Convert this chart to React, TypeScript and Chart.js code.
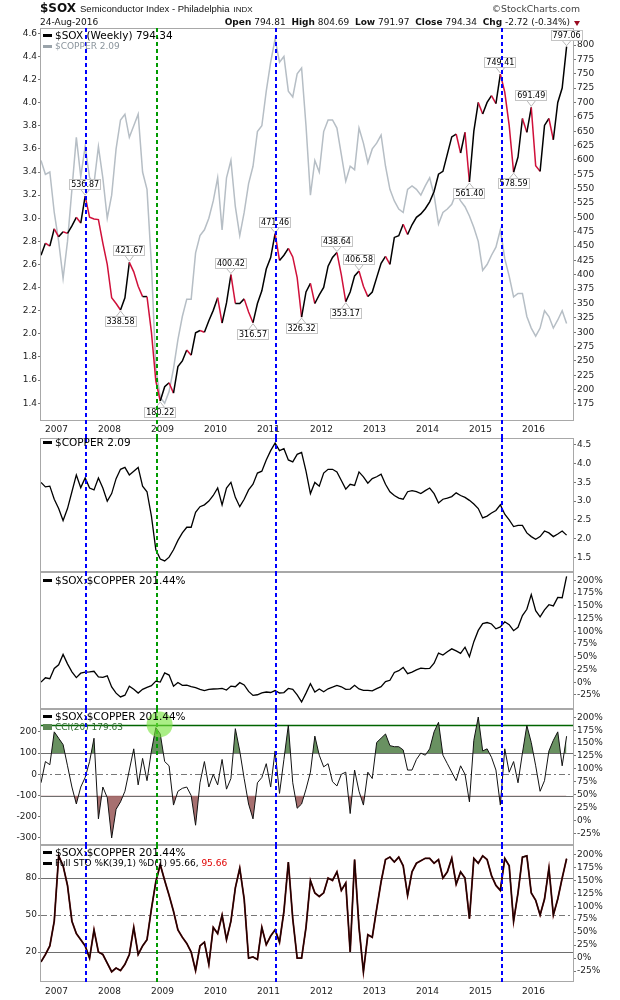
import React, { useEffect, useRef } from "react";
import { Chart, registerables } from "chart.js";
Chart.register(...registerables);

// Weekly chart sampled monthly: index 0 = Sep 2006 ... 119 = Aug 2016
const sox = [
  434, 455, 450, 480, 466, 475, 472, 485, 500, 490,
  536.87, 500, 497, 496, 455, 418, 360, 350, 338.58, 360,
  421.67, 405, 380, 362, 362, 300, 215, 180.22, 205, 212,
  194, 240, 250, 269, 260, 299, 303, 300, 320, 338,
  360, 316, 351, 400.42, 350, 350, 358, 335, 316.57, 350,
  372, 410, 430, 471.46, 425, 434, 446, 431, 395, 326.32,
  370, 385, 350, 365, 378, 415, 430, 438.64, 400, 353.17,
  370, 398, 406.58, 380, 362, 370, 395, 420, 432, 418,
  465, 468, 488, 470, 487, 500, 506, 515, 527, 545,
  575, 580, 610, 640, 645, 612, 648, 561.40, 650, 700,
  680, 700, 712, 698, 749.41, 718, 660, 578.59, 605, 672,
  648, 691.49, 590, 580, 660, 672, 635, 700, 725, 797.06,
];

const copper = [
  3.50, 3.38, 3.40, 3.05, 2.80, 2.48, 2.80, 3.25, 3.70, 3.36,
  3.62, 3.35, 3.30, 3.62, 3.35, 3.00, 3.20, 3.60, 3.85, 3.90,
  3.70, 3.80, 3.90, 3.40, 3.25, 2.60, 1.70, 1.45, 1.40, 1.50,
  1.70, 1.95, 2.15, 2.30, 2.30, 2.70, 2.85, 2.90, 3.00, 3.15,
  3.35, 2.90, 3.35, 3.50, 3.10, 2.85, 3.05, 3.30, 3.45, 3.75,
  3.80, 4.10, 4.35, 4.55, 4.35, 4.40, 4.10, 4.05, 4.25, 4.30,
  3.80, 3.20, 3.50, 3.40, 3.75, 3.85, 3.85, 3.78, 3.55, 3.32,
  3.45, 3.42, 3.78, 3.65, 3.48, 3.60, 3.65, 3.72, 3.45, 3.25,
  3.15, 3.08, 3.05, 3.25, 3.28, 3.25, 3.20, 3.28, 3.35, 3.20,
  2.95, 3.05, 3.08, 3.12, 3.22, 3.15, 3.10, 3.02, 2.92, 2.80,
  2.55, 2.60, 2.68, 2.75, 2.90, 2.65, 2.50, 2.32, 2.35, 2.35,
  2.15, 2.05, 1.98, 2.05, 2.20, 2.15, 2.05, 2.12, 2.20, 2.09,
];

const cci = [
  -40, 60, 45, 200, 170, 140, 40, -60, -140, -60,
  -15, 60, 170, -210, -60, -110, -300, -165, -130, -80,
  20, 120, -50, 75, -30, 110, 220, 190, 60, 40,
  -145, -80, -66, -60, -100, -240, -40, 60, -60, 0,
  -50, 70, -70, -20, 215, 110, -20, -140, -210, -40,
  -15, 50, -60, 110, -90, 70, 232, -40, -160, -140,
  -70, 10, 180, 90, 35, 50, -35, -55, 0, 10,
  -185, 20, -80, -145, 10, -20, 150, 170, 190, 135,
  130, 130, 115, 20, 20, 70, 100, 90, 120, 200,
  245, 90, 50, 10, -30, 40, 0, -130, 160, 270,
  110, 120, 80, 20, -145, 120, 10, 60, -40, 100,
  230, 150, 40, -80, -30, 110, 160, 200, 40, 179.63,
];

const sto = [
  12, 18, 25, 45, 98, 90, 74, 45, 35, 30,
  25, 15, 38, 20, 18, 11, 4, 7, 5, 10,
  18, 40, 18, 25, 30, 55, 77, 91, 78, 66,
  53, 38, 32, 27, 20, 5, 25, 28, 10, 40,
  35, 50, 30, 45, 72, 88, 63, 15, 16, 14,
  40, 26, 33, 38, 28, 53, 93, 47, 15, 15,
  40, 78, 68, 65, 68, 80, 78, 85, 70, 76,
  20, 95, 40, 4, 34, 32, 55, 77, 95, 97,
  93, 97, 90, 66, 85, 92, 94, 96, 96, 92,
  95, 80, 85, 96, 75, 85, 80, 47, 96, 92,
  98, 95, 82, 74, 70, 96, 90, 45, 68, 97,
  98, 68, 62, 50, 63, 88, 50, 63, 80, 95.66,
];

const peakIdx = [10, 18, 20, 27, 43, 48, 53, 59, 67, 69, 72, 97, 104, 107, 111, 119];
const peakSide = ["up", "down", "up", "down", "up", "down", "up", "down", "up", "down", "up", "down", "up", "down", "up", "up"];

const years = ["2007", "2008", "2009", "2010", "2011", "2012", "2013", "2014", "2015", "2016"];
const yearPos = [3.5, 15.5, 27.5, 39.5, 51.5, 63.5, 75.5, 87.5, 99.5, 111.5];

const blueMarks = [10.2, 53.2, 104.4];
const greenMarks = [26.3];
const highlight = { x: 26.85, y: 235 };

const copperTicks = [1.4, 1.6, 1.8, 2.0, 2.2, 2.4, 2.6, 2.8, 3.0, 3.2, 3.4, 3.6, 3.8, 4.0, 4.2, 4.4, 4.6];
const soxTicks = [175, 200, 225, 250, 275, 300, 325, 350, 375, 400, 425, 450, 475, 500, 525, 550, 575, 600, 625, 650, 675, 700, 725, 750, 775, 800];
const copper2Ticks = [1.5, 2.0, 2.5, 3.0, 3.5, 4.0, 4.5];
const pctTicks = [-25, 0, 25, 50, 75, 100, 125, 150, 175, 200];
const cciTicks = [-300, -200, -100, 0, 100, 200];
const stoTicks = [20, 50, 80];

const X_MAX = 120.45;
const RED = "#d0103a";
const FONT = { family: '"DejaVu Sans", sans-serif', size: 9 };

const pts = (arr: number[]) => arr.map((v, i) => ({ x: i, y: v }));

function zeroPad(s: any) {
  s.paddingTop = 0;
  s.paddingBottom = 0;
  s.paddingLeft = 0;
  s.paddingRight = 0;
}

function yAxis(pos: string, min: number, max: number, ticks: number[], fmt: (v: number) => string) {
  return {
    type: "linear",
    position: pos,
    min,
    max,
    afterBuildTicks: (s: any) => {
      s.ticks = ticks.map((v) => ({ value: v }));
    },
    afterFit: (s: any) => {
      s.width = pos === "left" ? 41 : 47;
      zeroPad(s);
    },
    grid: { display: true, drawOnChartArea: false, drawTicks: true, tickLength: 3, color: "#777" },
    border: { display: false },
    ticks: { display: true, font: FONT, color: "#222", padding: 1, autoSkip: false, callback: (v: any) => fmt(Number(v)) },
  };
}

function xAxis(show: boolean, h: number, pad: number) {
  return {
    type: "linear",
    min: 0,
    max: X_MAX,
    display: show,
    afterBuildTicks: (s: any) => {
      s.ticks = yearPos.map((v) => ({ value: v }));
    },
    afterFit: (s: any) => {
      s.height = h;
      zeroPad(s);
    },
    grid: { display: false, drawTicks: false },
    border: { display: false },
    ticks: {
      font: FONT,
      color: "#222",
      padding: pad,
      maxRotation: 0,
      autoSkip: false,
      callback: (v: any) => years[yearPos.indexOf(Number(v))] ?? "",
    },
  };
}

const framePlugin = (hlines: { v: number; axis: string; color: string; width: number; dash: number[] }[] = []) => ({
  id: "frame",
  beforeDatasetsDraw(chart: any) {
    const { ctx, chartArea: a } = chart;
    ctx.save();
    hlines.forEach((h) => {
      const y = Math.round(chart.scales[h.axis].getPixelForValue(h.v)) + 0.5;
      ctx.strokeStyle = h.color;
      ctx.lineWidth = h.width;
      ctx.setLineDash(h.dash);
      ctx.beginPath();
      ctx.moveTo(a.left, y);
      ctx.lineTo(a.right, y);
      ctx.stroke();
    });
    ctx.setLineDash([]);
    ctx.strokeStyle = "#a8a8a8";
    ctx.lineWidth = 1;
    ctx.strokeRect(a.left - 0.5, a.top + 0.5, a.right - a.left + 1, a.bottom - a.top - 1);
    ctx.restore();
  },
});

const marksPlugin = (range: (chart: any) => [number, number], circle = false) => ({
  id: "marks",
  afterDatasetsDraw(chart: any) {
    const { ctx } = chart;
    const xs = chart.scales.x;
    const [t, b] = range(chart);
    ctx.save();
    ctx.lineWidth = 2;
    ctx.strokeStyle = "#0000ff";
    ctx.setLineDash([4, 3]);
    blueMarks.forEach((m) => {
      const x = Math.round(xs.getPixelForValue(m));
      ctx.beginPath();
      ctx.moveTo(x, t);
      ctx.lineTo(x, b);
      ctx.stroke();
    });
    ctx.lineWidth = 2;
    ctx.strokeStyle = "#009a00";
    ctx.setLineDash([4, 3]);
    greenMarks.forEach((m) => {
      const x = Math.round(xs.getPixelForValue(m));
      ctx.beginPath();
      ctx.moveTo(x, t);
      ctx.lineTo(x, b);
      ctx.stroke();
    });
    if (circle) {
      ctx.setLineDash([]);
      const cx = xs.getPixelForValue(highlight.x);
      const cy = chart.scales.yL.getPixelForValue(highlight.y);
      ctx.fillStyle = "rgba(118,228,60,0.62)";
      ctx.beginPath();
      ctx.arc(cx, cy, 13, 0, Math.PI * 2);
      ctx.fill();
    }
    ctx.restore();
  },
});

const soxLabelPlugin = {
  id: "soxLabels",
  afterDatasetsDraw(chart: any) {
    const { ctx } = chart;
    const xs = chart.scales.x;
    const ys = chart.scales.yR;
    ctx.save();
    ctx.font = '8px "DejaVu Sans", sans-serif';
    peakIdx.forEach((i, k) => {
      const v = sox[i];
      const txt = v.toFixed(2);
      const px = xs.getPixelForValue(i);
      const py = ys.getPixelForValue(v);
      const w = Math.round(ctx.measureText(txt).width) + 4;
      const h = 11;
      const up = peakSide[k] === "up";
      const by = Math.round(up ? py - 6 - h : py + 6);
      const bx = Math.round(px - w / 2);
      const edge = up ? by + h : by;
      ctx.strokeStyle = "#b8b8b8";
      ctx.lineWidth = 1;
      ctx.beginPath();
      ctx.moveTo(px - 4, edge);
      ctx.lineTo(px, up ? py - 1 : py + 1);
      ctx.lineTo(px + 4, edge);
      ctx.stroke();
      ctx.fillStyle = "#fff";
      ctx.fillRect(bx, by, w, h);
      ctx.strokeStyle = "#c4c4c4";
      ctx.strokeRect(bx + 0.5, by + 0.5, w - 1, h - 1);
      ctx.fillStyle = "#000";
      ctx.textAlign = "center";
      ctx.textBaseline = "middle";
      ctx.fillText(txt, px, by + h / 2 + 0.5);
    });
    ctx.restore();
  },
};

const baseOptions = (padding: any) => ({
  animation: false,
  responsive: false,
  maintainAspectRatio: false,
  devicePixelRatio: 1,
  events: [],
  layout: { padding },
  plugins: { legend: { display: false }, tooltip: { enabled: false } },
  elements: { point: { radius: 0 }, line: { tension: 0 } },
});

const pct = (v: number) => `${v}%`;

export default function App() {
  const r1 = useRef<HTMLCanvasElement>(null);
  const r2 = useRef<HTMLCanvasElement>(null);
  const r3 = useRef<HTMLCanvasElement>(null);
  const r4 = useRef<HTMLCanvasElement>(null);
  const r5 = useRef<HTMLCanvasElement>(null);

  useEffect(() => {
    Chart.defaults.font.family = '"DejaVu Sans", sans-serif';
    const base = sox[0] / copper[0];
    const ratio = sox.map((v, i) => (v / copper[i] / base) * 100 - 100);
    const charts: Chart[] = [];

    charts.push(
      new Chart(r1.current as HTMLCanvasElement, {
        type: "line",
        data: {
          datasets: [
            {
              data: pts(sox),
              yAxisID: "yR",
              borderColor: "#000",
              borderWidth: 1.5,
              pointRadius: 0,
              order: 0,
              segment: { borderColor: (c: any) => (c.p1.parsed.y < c.p0.parsed.y ? RED : "#000") },
            },
            { data: pts(copper), yAxisID: "yL", borderColor: "#b6bec5", borderWidth: 1.5, pointRadius: 0, order: 1 },
          ],
        },
        options: {
          ...baseOptions({ top: 28, left: 0, right: 0, bottom: 0 }),
          scales: {
            x: xAxis(true, 17, 3),
            yL: yAxis("left", 1.246, 4.646, copperTicks, (v) => v.toFixed(1)),
            yR: yAxis("right", 145.4, 829.6, soxTicks, (v) => String(v)),
          },
        } as any,
        plugins: [framePlugin(), soxLabelPlugin, marksPlugin((c) => [c.chartArea.top, c.height])],
      })
    );

    charts.push(
      new Chart(r2.current as HTMLCanvasElement, {
        type: "line",
        data: { datasets: [{ data: pts(copper), yAxisID: "y", borderColor: "#000", borderWidth: 1.3, pointRadius: 0 }] },
        options: {
          ...baseOptions({ top: 0, left: 41, right: 0, bottom: 0 }),
          scales: {
            x: xAxis(false, 0, 0),
            y: yAxis("right", 1.104, 4.687, copper2Ticks, (v) => v.toFixed(1)),
          },
        } as any,
        plugins: [framePlugin(), marksPlugin((c) => [0, c.height])],
      })
    );

    charts.push(
      new Chart(r3.current as HTMLCanvasElement, {
        type: "line",
        data: { datasets: [{ data: pts(ratio), yAxisID: "y", borderColor: "#000", borderWidth: 1.3, pointRadius: 0 }] },
        options: {
          ...baseOptions({ top: 0, left: 41, right: 0, bottom: 0 }),
          scales: {
            x: xAxis(false, 0, 0),
            y: yAxis("right", -52.7, 216.3, pctTicks, pct),
          },
        } as any,
        plugins: [framePlugin(), marksPlugin((c) => [0, c.height])],
      })
    );

    charts.push(
      new Chart(r4.current as HTMLCanvasElement, {
        type: "line",
        data: {
          datasets: [
            { data: pts(cci), yAxisID: "yL", borderColor: "#111", borderWidth: 1, pointRadius: 0, fill: false, order: 0 },
            {
              data: pts(cci),
              yAxisID: "yL",
              borderColor: "rgba(0,0,0,0)",
              borderWidth: 0,
              pointRadius: 0,
              order: 1,
              fill: { target: { value: 100 }, above: "rgba(92,136,84,0.92)", below: "rgba(0,0,0,0)" },
            },
            {
              data: pts(cci),
              yAxisID: "yL",
              borderColor: "rgba(0,0,0,0)",
              borderWidth: 0,
              pointRadius: 0,
              order: 2,
              fill: { target: { value: -100 }, above: "rgba(0,0,0,0)", below: "rgba(160,100,100,0.92)" },
            },
          ],
        },
        options: {
          ...baseOptions({ top: 0, left: 0, right: 0, bottom: 0 }),
          scales: {
            x: xAxis(false, 0, 0),
            yL: yAxis("left", -333.2, 307.7, cciTicks, (v) => String(v)),
            yR: yAxis("right", -47.7, 216.1, pctTicks, pct),
          },
        } as any,
        plugins: [
          framePlugin([
            { v: 100, axis: "yL", color: "#6e6e6e", width: 1, dash: [] },
            { v: -100, axis: "yL", color: "#6e6e6e", width: 1, dash: [] },
            { v: 0, axis: "yL", color: "#777", width: 1, dash: [6, 3, 2, 3] },
            { v: 233, axis: "yL", color: "#006400", width: 1.5, dash: [] },
          ]),
          marksPlugin((c) => [0, c.height], true),
        ],
      })
    );

    charts.push(
      new Chart(r5.current as HTMLCanvasElement, {
        type: "line",
        data: {
          datasets: [
            { data: pts(sto), yAxisID: "yL", borderColor: "#1a0303", borderWidth: 1.2, pointRadius: 0, order: 0 },
            { data: pts(sto), yAxisID: "yL", borderColor: "#6e1010", borderWidth: 1.8, pointRadius: 0, order: 1 },
          ],
        },
        options: {
          ...baseOptions({ top: 0, left: 0, right: 0, bottom: 0 }),
          scales: {
            x: xAxis(true, 18, 4),
            yL: yAxis("left", -4.3, 106.8, stoTicks, (v) => String(v)),
            yR: yAxis("right", -46.2, 217.9, pctTicks, pct),
          },
        } as any,
        plugins: [
          framePlugin([
            { v: 80, axis: "yL", color: "#6e6e6e", width: 1, dash: [] },
            { v: 20, axis: "yL", color: "#6e6e6e", width: 1, dash: [] },
            { v: 50, axis: "yL", color: "#777", width: 1, dash: [6, 3, 2, 3] },
          ]),
          marksPlugin((c) => [0, c.chartArea.bottom]),
        ],
      })
    );

    return () => charts.forEach((c) => c.destroy());
  }, []);

  const cv = (top: number, h: number) => ({ position: "absolute" as const, left: 0, top, width: 620, height: h });
  const dash = (color: string) => (
    <span style={{ display: "inline-block", width: 9, height: 3, background: color, marginRight: 3 }} />
  );
  const row = (top: number, size: number, color: string, children: any) => (
    <div
      style={{
        position: "absolute",
        left: 43,
        top: top - 6,
        height: 12,
        lineHeight: "12px",
        display: "flex",
        alignItems: "center",
        whiteSpace: "nowrap",
        fontFamily: '"DejaVu Sans", sans-serif',
        fontSize: size,
        color,
      }}
    >
      {children}
    </div>
  );

  return (
    <div style={{ position: "absolute", left: 0, top: 0, width: 620, height: 1000, background: "#fff", fontFamily: '"DejaVu Sans", sans-serif' }}>
      <canvas ref={r1} width={620} height={438} style={cv(0, 438)} />
      <canvas ref={r2} width={620} height={134} style={cv(438, 134)} />
      <canvas ref={r3} width={620} height={137} style={cv(572, 137)} />
      <canvas ref={r4} width={620} height={136} style={cv(709, 136)} />
      <canvas ref={r5} width={620} height={155} style={cv(845, 155)} />

      <div style={{ position: "absolute", left: 40, top: 1, display: "flex", alignItems: "baseline", whiteSpace: "nowrap", color: "#111" }}>
        <span style={{ fontFamily: '"DejaVu Sans", sans-serif', fontWeight: "bold", fontSize: 12 }}>$SOX</span>
        <span style={{ fontFamily: '"Liberation Sans", Arial, sans-serif', fontSize: 9.5, marginLeft: 4 }}>Semiconductor Index - Philadelphia</span>
        <span style={{ fontFamily: '"Liberation Sans", Arial, sans-serif', fontSize: 8, marginLeft: 4 }}>INDX</span>
      </div>
      <div style={{ position: "absolute", right: 40, top: 3, fontFamily: '"DejaVu Sans", sans-serif', fontSize: 9.3, color: "#444", whiteSpace: "nowrap" }}>
        ©StockCharts.com
      </div>
      <div style={{ position: "absolute", left: 40, top: 17, fontSize: 9, color: "#111", whiteSpace: "nowrap" }}>24-Aug-2016</div>
      <div style={{ position: "absolute", right: 50, top: 17, fontSize: 9, color: "#111", whiteSpace: "nowrap" }}>
        <b>Open</b> 794.81&nbsp; <b>High</b> 804.69&nbsp; <b>Low</b> 791.97&nbsp; <b>Close</b> 794.34&nbsp; <b>Chg</b> -2.72 (-0.34%)
      </div>
      <div
        style={{
          position: "absolute",
          left: 574,
          top: 21,
          width: 0,
          height: 0,
          borderLeft: "3px solid transparent",
          borderRight: "3px solid transparent",
          borderTop: "5px solid #9a0a20",
        }}
      />

      {row(35, 10.5, "#000", <>{dash("#000")}$SOX (Weekly) 794.34</>)}
      {row(46, 9, "#8a949c", <>{dash("#9aa3aa")}$COPPER 2.09</>)}
      {row(442, 10.5, "#000", <>{dash("#000")}$COPPER 2.09</>)}
      {row(580, 10.5, "#000", <>{dash("#000")}$SOX:$COPPER 201.44%</>)}
      {row(716, 10.5, "#000", <>{dash("#000")}$SOX:$COPPER 201.44%</>)}
      {row(727, 9, "#2e6b2e", <><span style={{ display: "inline-block", width: 9, height: 6, background: "#5c8854", marginRight: 3 }} />CCI(20) 179.63</>)}
      {row(852, 10.5, "#000", <>{dash("#000")}$SOX:$COPPER 201.44%</>)}
      {row(863, 9, "#000", <>{dash("#000")}Full STO %K(39,1) %D(1) 95.66,&nbsp;<span style={{ color: "#e00000" }}>95.66</span></>)}
    </div>
  );
}
